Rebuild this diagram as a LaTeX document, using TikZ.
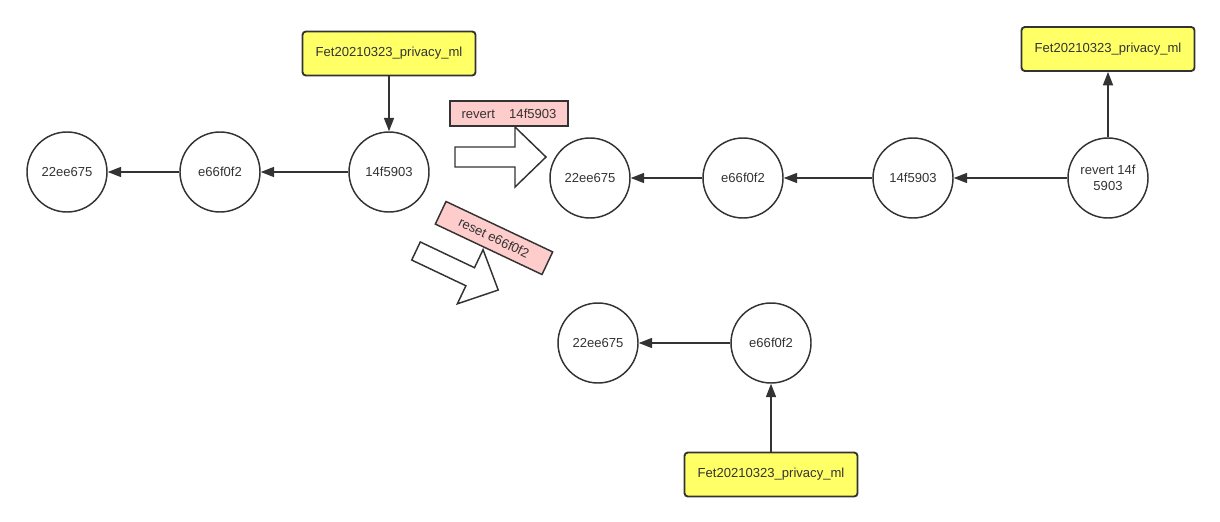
\documentclass[tikz,border=0pt]{standalone}
\usepackage{fontspec}
\setmainfont{Liberation Sans}
\usetikzlibrary{arrows.meta}
\definecolor{lnc}{HTML}{333333}
\definecolor{branchy}{HTML}{FFFF66}
\definecolor{cmdpink}{HTML}{FFCCCC}
\tikzset{
  commit/.style={circle, draw=lnc, line width=1.1pt, minimum size=60pt, inner sep=0pt,
    align=center, text=lnc, font=\fontsize{9.8}{11.8}\selectfont},
  branch/.style={rectangle, rounded corners=2.5pt, draw=lnc, line width=1.4pt, fill=branchy,
    minimum width=129.75pt, minimum height=33pt, text=lnc, font=\fontsize{9.8}{11.8}\selectfont},
  cmd/.style={rectangle, draw=lnc, line width=1.1pt, fill=cmdpink, minimum width=88.5pt,
    minimum height=18.75pt, inner sep=1pt, text=lnc, font=\fontsize{9.8}{11.8}\selectfont},
  link/.style={->, draw=lnc, line width=1.1pt},
  blockarrow/.style={draw=lnc, line width=1.1pt, fill=white},
}
\begin{document}
\begin{tikzpicture}[x=0.75pt, y=-0.75pt, >={Triangle[length=10pt, width=7.5pt]}]
\useasboundingbox (0,0) rectangle (1220,521);
% before
\node[commit] (a1) at (67,172) {22ee675};
\node[commit] (a2) at (220,172) {e66f0f2};
\node[commit] (a3) at (389,172) {14f5903};
\node[branch] (ba) at (389,53.5) {Fet20210323\_privacy\_ml};
\draw[link] (a3) -- (a2);
\draw[link] (a2) -- (a1);
\draw[link] (ba) -- (a3);

% revert
\node[cmd] (rv) at (509,113.5) {revert\hspace{8pt} 14f5903};
\draw[blockarrow] (455,147) -- (515,147) -- (515,127) -- (546,157) -- (515,187)
  -- (515,167) -- (455,167) -- cycle;
\node[commit] (r1) at (590,178) {22ee675};
\node[commit] (r2) at (743,178) {e66f0f2};
\node[commit] (r3) at (913,178) {14f5903};
\node[commit] (r4) at (1108,178) {revert 14f\\5903};
\node[branch] (br) at (1108,49) {Fet20210323\_privacy\_ml};
\draw[link] (r4) -- (r3);
\draw[link] (r3) -- (r2);
\draw[link] (r2) -- (r1);
\draw[link] (r4) -- (br);

% reset
\node[cmd, rotate=-25.3] (rs) at (494,238) {reset e66f0f2};
\begin{scope}[shift={(416,251)}, rotate=-25.4]
\draw[blockarrow] (0,-10) -- (60,-10) -- (60,-30) -- (91,0) -- (60,30)
  -- (60,10) -- (0,10) -- cycle;
\end{scope}
\node[commit] (s1) at (598,343) {22ee675};
\node[commit] (s2) at (771,343) {e66f0f2};
\node[branch] (bs) at (771,474.5) {Fet20210323\_privacy\_ml};
\draw[link] (s2) -- (s1);
\draw[link] (bs) -- (s2);

\end{tikzpicture}
\end{document}
